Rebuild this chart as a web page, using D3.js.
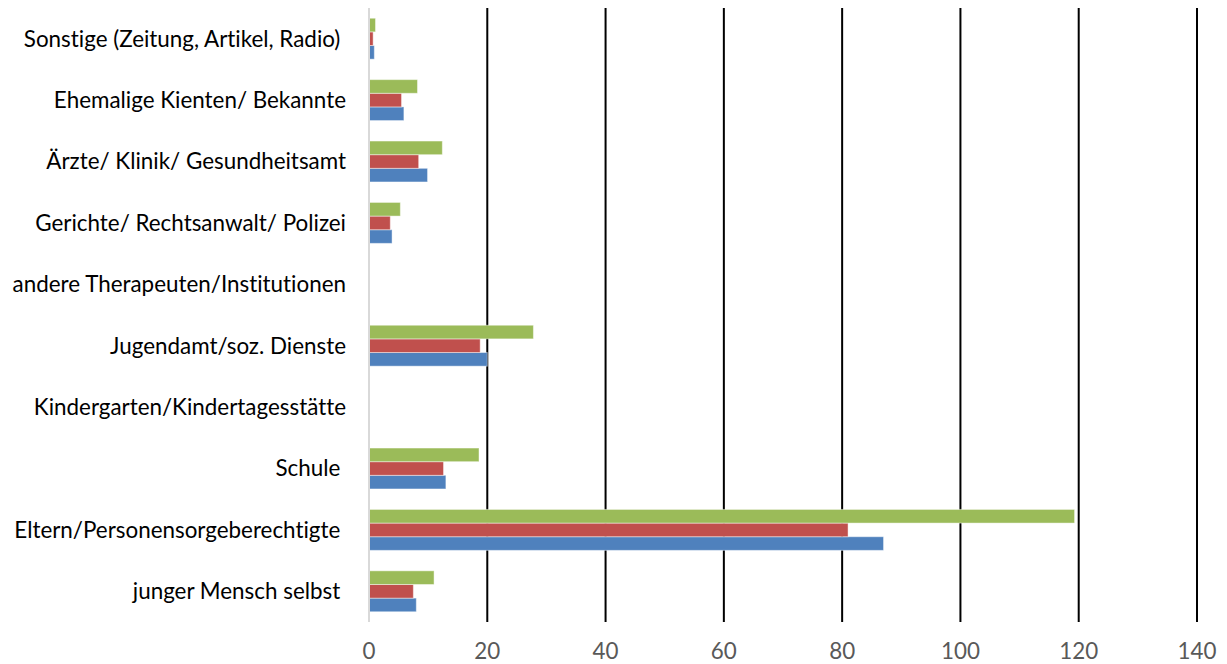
<!DOCTYPE html>
<html>
<head>
<meta charset="utf-8">
<script src="https://cdn.jsdelivr.net/npm/d3@7"></script>
<style>
  html, body { margin: 0; padding: 0; background: #fff; }
  svg { display: block; }
  text { font-family: Lato, "Open Sans", sans-serif; font-variant-ligatures: none; }
</style>
</head>
<body>
<svg id="chart" width="1227" height="664"></svg>
<script>
// Categories, bottom to top (first category sits at the bottom of the chart)
const categories = [
  "junger Mensch selbst",
  "Eltern/Personensorgeberechtigte",
  "Schule",
  "Kindergarten/Kindertagesstätte",
  "Jugendamt/soz. Dienste",
  "andere Therapeuten/Institutionen",
  "Gerichte/ Rechtsanwalt/ Polizei",
  "Ärzte/ Klinik/ Gesundheitsamt",
  "Ehemalige Kienten/ Bekannte",
  "Sonstige (Zeitung, Artikel, Radio)"
];
// Labels that carry a trailing space
const trailingSpace = [
  "junger Mensch selbst",
  "Eltern/Personensorgeberechtigte",
  "Schule",
  "Sonstige (Zeitung, Artikel, Radio)"
];

const serie1 = [8, 87, 13, 0, 20, 0, 3.9, 9.9, 5.9, 0.9];      // blue
const serie2 = [7.5, 81, 12.6, 0, 18.8, 0, 3.6, 8.4, 5.5, 0.7]; // red
const serie3 = [11, 119.3, 18.6, 0, 27.8, 0, 5.3, 12.4, 8.2, 1.1]; // green

const xTicks = [0, 20, 40, 60, 80, 100, 120, 140];

const seriesList = [
  { key: "serie1", values: serie1, color: "#4F81BD" },
  { key: "serie2", values: serie2, color: "#C0504D" },
  { key: "serie3", values: serie3, color: "#9BBB59" }
];

const svg = d3.select("#chart");
const plot = { left: 369, right: 1197, top: 8, bottom: 622 };

const x = d3.scaleLinear().domain([0, 140]).range([plot.left, plot.right]);

// Top of chart shows the last category
const y0 = d3.scaleBand()
  .domain(categories.slice().reverse())
  .range([plot.top, plot.bottom])
  .paddingInner(1 / 3)
  .paddingOuter(1 / 6);

// Within a group: third series on top, first at the bottom
const y1 = d3.scaleBand()
  .domain(["serie3", "serie2", "serie1"])
  .range([0, y0.bandwidth()]);

// Vertical gridlines
svg.append("g")
  .selectAll("line")
  .data(xTicks.filter(d => d > 0))
  .join("line")
  .attr("x1", d => x(d)).attr("x2", d => x(d))
  .attr("y1", plot.top).attr("y2", plot.bottom)
  .attr("stroke", "#000")
  .attr("stroke-width", 2);

// Bars
const groups = svg.append("g")
  .selectAll("g")
  .data(categories.map((c, i) => ({ c, i })))
  .join("g")
  .attr("transform", d => `translate(0,${y0(d.c)})`);

groups.selectAll("rect")
  .data(d => seriesList.map(s => ({ key: s.key, v: s.values[d.i], color: s.color })))
  .join("rect")
  .attr("x", x(0))
  .attr("y", d => y1(d.key))
  .attr("width", d => x(d.v) - x(0))
  .attr("height", y1.bandwidth())
  .attr("fill", d => d.color)
  .attr("stroke", "rgba(255,255,255,0.45)")
  .attr("stroke-width", 1);

// Category axis line
svg.append("line")
  .attr("x1", x(0)).attr("x2", x(0))
  .attr("y1", plot.top).attr("y2", plot.bottom)
  .attr("stroke", "#D9D9D9")
  .attr("stroke-width", 2);

// Category labels
const labelSize = 22.4;
svg.append("g")
  .selectAll("text")
  .data(categories)
  .join("text")
  .attr("xml:space", "preserve")
  .attr("x", 346)
  .attr("y", d => y0(d) + y0.bandwidth() / 2)
  .attr("dy", "0.35em")
  .attr("text-anchor", "end")
  .attr("font-size", labelSize)
  .attr("fill", "#000")
  .text(d => trailingSpace.includes(d) ? d + " " : d);

// Value axis labels
svg.append("g")
  .selectAll("text")
  .data(xTicks)
  .join("text")
  .attr("x", d => x(d))
  .attr("y", 651)
  .attr("dy", "0.35em")
  .attr("text-anchor", "middle")
  .attr("font-size", 22.4)
  .attr("fill", "#595959")
  .text(d => d);
</script>
</body>
</html>
